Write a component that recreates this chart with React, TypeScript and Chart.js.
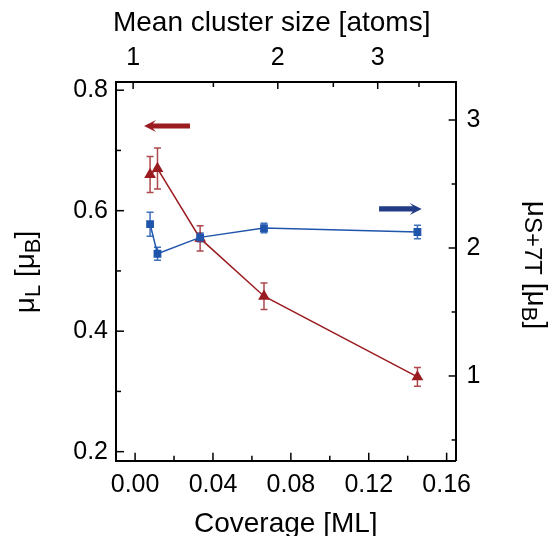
import React, { useEffect, useRef } from 'react';
import { Chart, registerables } from 'chart.js';

Chart.register(...registerables);

// ---- data ----
const coverage = [0.0077, 0.0115, 0.0334, 0.0662, 0.145];
const muL = [0.66, 0.67, 0.554, 0.458, 0.324];
const muLErr = [0.03, 0.034, 0.021, 0.022, 0.0155];
const muS7T = [2.186, 1.955, 2.083, 2.156, 2.125];
const muS7TErr = [0.094, 0.05, 0.035, 0.037, 0.053];

// ---- axis ticks ----
const coverageTicks = [0, 0.04, 0.08, 0.12, 0.16];
const coverageMinorTicks = [0.02, 0.06, 0.1, 0.14];
const clusterSizeLabels = ['1', '2', '3'];
const clusterSizeCoverage = [-0.001, 0.0733, 0.1246];
const clusterSizeMinorCoverage = [0.0402, 0.1018, 0.1458];
const muLTicks = [0.2, 0.4, 0.6, 0.8];
const muLMinorTicks = [0.3, 0.5, 0.7];
const muS7TTicks = [1, 2, 3];
const muS7TMinorTicks = [0.5, 1.5, 2.5];

// ---- axis ranges ----
const xRange = [-0.0098, 0.1646];
const yLRange = [0.185, 0.8136];
const yRRange = [0.338, 3.297];

// ---- direction arrows (data units) ----
const redArrow = { tail: 0.0282, head: 0.0046, y: 0.7406 };
const blueArrow = { tail: 0.1253, head: 0.1472, y: 2.305 };

const RED = '#9b1c20';
const BLUE = '#1f55ab';
const BLUE_ARROW = '#223d85';
const FONT = "'Liberation Sans', Arial, sans-serif";

type Part = { t: string; size: number; dy: number };

function drawRich(ctx: CanvasRenderingContext2D, parts: Part[], cx: number, cy: number, rot: number) {
  ctx.save();
  ctx.translate(cx, cy);
  ctx.rotate(rot);
  ctx.textBaseline = 'alphabetic';
  ctx.textAlign = 'left';
  let total = 0;
  const widths = parts.map((p) => {
    ctx.font = `${p.size}px ${FONT}`;
    const w = ctx.measureText(p.t).width;
    total += w;
    return w;
  });
  let x = -total / 2;
  parts.forEach((p, i) => {
    ctx.font = `${p.size}px ${FONT}`;
    ctx.fillStyle = '#000';
    ctx.fillText(p.t, x, p.dy);
    x += widths[i];
  });
  ctx.restore();
}

function drawArrow(ctx: CanvasRenderingContext2D, xTail: number, xHead: number, y: number, color: string) {
  const dir = Math.sign(xHead - xTail);
  const headLen = 12;
  const headHalf = 6;
  const shaftHalf = 2.6;
  ctx.save();
  ctx.fillStyle = color;
  ctx.beginPath();
  ctx.moveTo(xTail, y - shaftHalf);
  ctx.lineTo(xHead - dir * headLen + dir * 3, y - shaftHalf);
  ctx.lineTo(xHead - dir * headLen, y - headHalf);
  ctx.lineTo(xHead, y);
  ctx.lineTo(xHead - dir * headLen, y + headHalf);
  ctx.lineTo(xHead - dir * headLen + dir * 3, y + shaftHalf);
  ctx.lineTo(xTail, y + shaftHalf);
  ctx.closePath();
  ctx.fill();
  ctx.restore();
}

const customPlugin = {
  id: 'customDecor',
  beforeDatasetsDraw(chart: any) {
    const ctx: CanvasRenderingContext2D = chart.ctx;
    const x = chart.scales.x;
    const series = [
      { vals: muL, errs: muLErr, scale: chart.scales.yL, color: 'rgba(160,40,45,0.85)' },
      { vals: muS7T, errs: muS7TErr, scale: chart.scales.yR, color: 'rgba(40,95,180,0.9)' },
    ];
    ctx.save();
    ctx.lineWidth = 1.5;
    series.forEach((s) => {
      ctx.strokeStyle = s.color;
      coverage.forEach((c, i) => {
        const px = x.getPixelForValue(c);
        const y1 = s.scale.getPixelForValue(s.vals[i] + s.errs[i]);
        const y2 = s.scale.getPixelForValue(s.vals[i] - s.errs[i]);
        ctx.beginPath();
        ctx.moveTo(px, y1);
        ctx.lineTo(px, y2);
        ctx.moveTo(px - 3.5, y1);
        ctx.lineTo(px + 3.5, y1);
        ctx.moveTo(px - 3.5, y2);
        ctx.lineTo(px + 3.5, y2);
        ctx.stroke();
      });
    });
    ctx.restore();
  },
  afterDraw(chart: any) {
    const ctx: CanvasRenderingContext2D = chart.ctx;
    const { left, right, top, bottom } = chart.chartArea;
    const sx = chart.scales.x;
    const sL = chart.scales.yL;
    const sR = chart.scales.yR;
    ctx.save();
    ctx.strokeStyle = '#000';
    ctx.lineWidth = 1.5;
    const tick = (x1: number, y1: number, x2: number, y2: number) => {
      ctx.beginPath();
      ctx.moveTo(x1, y1);
      ctx.lineTo(x2, y2);
      ctx.stroke();
    };
    coverageTicks.forEach((v) => { const p = sx.getPixelForValue(v); tick(p, bottom, p, bottom - 8); });
    coverageMinorTicks.forEach((v) => { const p = sx.getPixelForValue(v); tick(p, bottom, p, bottom - 5); });
    clusterSizeCoverage.forEach((v) => { const p = sx.getPixelForValue(v); tick(p, top, p, top + 7); });
    clusterSizeMinorCoverage.forEach((v) => { const p = sx.getPixelForValue(v); tick(p, top, p, top + 5); });
    muLTicks.forEach((v) => { const p = sL.getPixelForValue(v); tick(left, p, left + 8, p); });
    muLMinorTicks.forEach((v) => { const p = sL.getPixelForValue(v); tick(left, p, left + 5, p); });
    muS7TTicks.forEach((v) => { const p = sR.getPixelForValue(v); tick(right, p, right - 7, p); });
    muS7TMinorTicks.forEach((v) => { const p = sR.getPixelForValue(v); tick(right, p, right - 4, p); });
    ctx.restore();

    drawArrow(ctx, sx.getPixelForValue(redArrow.tail), sx.getPixelForValue(redArrow.head), sL.getPixelForValue(redArrow.y), RED);
    drawArrow(ctx, sx.getPixelForValue(blueArrow.tail), sx.getPixelForValue(blueArrow.head), sR.getPixelForValue(blueArrow.y), BLUE_ARROW);

    // axis titles
    drawRich(ctx, [{ t: 'Mean cluster size [atoms]', size: 28, dy: 0 }], 271.7, 31, 0);
    drawRich(ctx, [{ t: 'Coverage [ML]', size: 28, dy: 0 }], (left + right) / 2, 532, 0);
    drawRich(
      ctx,
      [
        { t: 'μ', size: 28, dy: 0 },
        { t: 'L', size: 22, dy: 6 },
        { t: ' [', size: 28, dy: 0 },
        { t: 'μ', size: 28, dy: 0 },
        { t: 'B', size: 22, dy: 6 },
        { t: ']', size: 28, dy: 0 },
      ],
      33.5,
      272,
      -Math.PI / 2
    );
    drawRich(
      ctx,
      [
        { t: 'μ', size: 28, dy: 0 },
        { t: 'S+7T', size: 24, dy: 3 },
        { t: ' [', size: 28, dy: 0 },
        { t: 'μ', size: 28, dy: 0 },
        { t: 'B', size: 22, dy: 6 },
        { t: ']', size: 28, dy: 0 },
      ],
      528,
      265,
      Math.PI / 2
    );
  },
};

const tickFont = { family: FONT, size: 25 };
const border = { display: true, color: '#000', width: 2 };

export default function App() {
  const ref = useRef<HTMLCanvasElement | null>(null);
  useEffect(() => {
    if (!ref.current) return;
    const chart = new Chart(ref.current, {
      type: 'line',
      data: {
        datasets: [
          {
            label: 'muS7T',
            data: coverage.map((c, i) => ({ x: c, y: muS7T[i] })),
            xAxisID: 'x',
            yAxisID: 'yR',
            borderColor: BLUE,
            backgroundColor: BLUE,
            borderWidth: 1.5,
            pointStyle: 'rect',
            pointRadius: 5.5,
            pointBorderWidth: 0,
            tension: 0,
          },
          {
            label: 'muL',
            data: coverage.map((c, i) => ({ x: c, y: muL[i] })),
            xAxisID: 'x',
            yAxisID: 'yL',
            borderColor: RED,
            backgroundColor: RED,
            borderWidth: 1.5,
            pointStyle: 'triangle',
            pointRadius: 6.8,
            pointBorderWidth: 0,
            tension: 0,
          },
        ],
      },
      options: {
        responsive: false,
        animation: false,
        devicePixelRatio: 1,
        layout: { padding: 0 },
        plugins: { legend: { display: false }, tooltip: { enabled: false } },
        scales: {
          x: {
            type: 'linear',
            position: 'bottom',
            min: xRange[0],
            max: xRange[1],
            grid: { display: false, drawTicks: false },
            border,
            ticks: { font: tickFont, color: '#000', padding: 9, maxRotation: 0, callback: (v: any) => Number(v).toFixed(2) },
            afterBuildTicks: (s: any) => { s.ticks = coverageTicks.map((v) => ({ value: v })); },
            afterFit: (s: any) => { s.height = 75.3; },
          },
          x2: {
            type: 'linear',
            position: 'top',
            display: true,
            min: xRange[0],
            max: xRange[1],
            grid: { display: false, drawTicks: false },
            border,
            ticks: { font: tickFont, color: '#000', padding: 9, maxRotation: 0, callback: (_v: any, i: number) => clusterSizeLabels[i] },
            afterBuildTicks: (s: any) => { s.ticks = clusterSizeCoverage.map((v) => ({ value: v })); },
            afterFit: (s: any) => { s.height = 82; },
          },
          yL: {
            type: 'linear',
            position: 'left',
            min: yLRange[0],
            max: yLRange[1],
            grid: { display: false, drawTicks: false },
            border,
            ticks: { font: tickFont, color: '#000', padding: 8, callback: (v: any) => Number(v).toFixed(1) },
            afterBuildTicks: (s: any) => { s.ticks = muLTicks.map((v) => ({ value: v })); },
            afterFit: (s: any) => { s.width = 116; },
          },
          yR: {
            type: 'linear',
            position: 'right',
            min: yRRange[0],
            max: yRRange[1],
            grid: { display: false, drawTicks: false },
            border,
            ticks: { font: tickFont, color: '#000', padding: 11, callback: (v: any) => String(v) },
            afterBuildTicks: (s: any) => { s.ticks = muS7TTicks.map((v) => ({ value: v })); },
            afterFit: (s: any) => { s.width = 93.4; },
          },
        },
      },
      plugins: [customPlugin],
    } as any);
    return () => chart.destroy();
  }, []);
  return (
    <div style={{ position: 'fixed', left: 0, top: 0, width: 549, height: 536, background: '#fff' }}>
      <canvas ref={ref} width={549} height={536} style={{ width: 549, height: 536 }} />
    </div>
  );
}
